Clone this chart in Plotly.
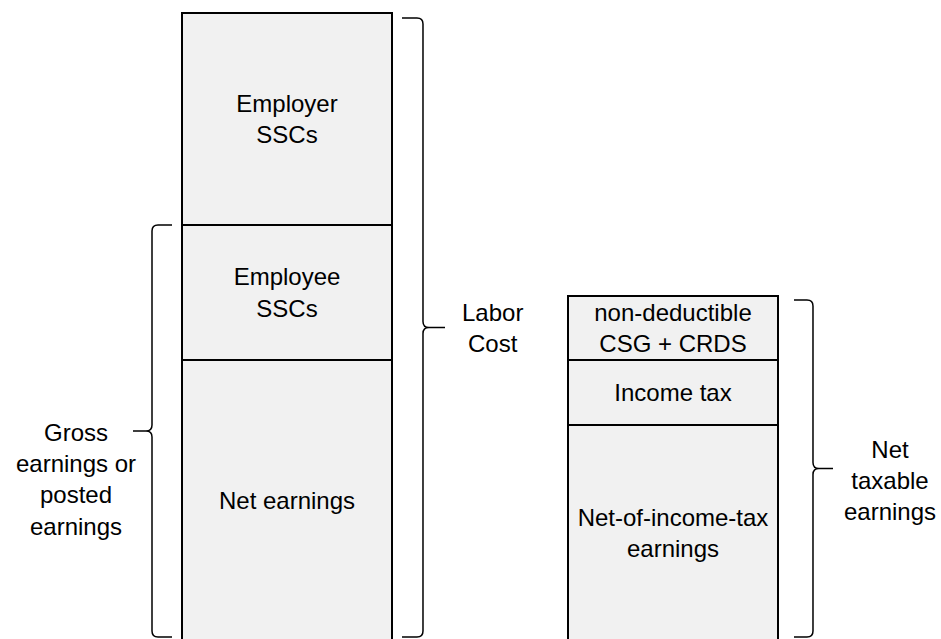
import plotly.graph_objects as go

# ---- data (arbitrary units, stacked bottom -> top) ----
bar_names = ["Labor cost", "Net taxable earnings"]
bottom_labels = ["Net earnings", "Net-of-income-tax<br>earnings"]
bottom_values = [281, 216]
middle_labels = ["Employee<br>SSCs", "Income tax"]
middle_values = [135, 65]
top_labels = ["Employer<br>SSCs", "non-deductible<br>CSG + CRDS"]
top_values = [212, 64]

brace_texts = ["Labor<br>Cost", "Gross<br>earnings or<br>posted<br>earnings", "Net<br>taxable<br>earnings"]

# ---- layout geometry ----
W, H = 941, 639
X_RANGE = [-0.7435, 1.6943]
Y_RANGE = [2, 641]
PX_X = W / (X_RANGE[1] - X_RANGE[0])   # pixels per x unit
BAR_W = 0.544
FILL = "#f1f1f1"
FONT = "Liberation Sans, Arial, sans-serif"

xs = [0, 1]
fig = go.Figure()
for labels, vals in [(bottom_labels, bottom_values), (middle_labels, middle_values), (top_labels, top_values)]:
    fig.add_trace(go.Bar(
        x=xs, y=vals, width=BAR_W, text=labels,
        textposition="inside", insidetextanchor="middle", textangle=0,
        textfont=dict(size=24, color="black", family=FONT),
        marker=dict(color=FILL, line=dict(color="black", width=2)),
        hoverinfo="skip", showlegend=False,
    ))


def px(dx):
    return dx / PX_X


def brace(x_line, x_hook, x_tip, y_top, y_bot, rx_px=6, ry=6):
    """curly brace path; hooks point toward x_hook, tip toward x_tip"""
    s = 1 if x_tip > x_line else -1
    rx = px(rx_px)
    ym = (y_top + y_bot) / 2
    p = (f"M {x_hook},{y_top} L {x_line - s*rx},{y_top} "
         f"Q {x_line},{y_top} {x_line},{y_top - ry} "
         f"L {x_line},{ym + ry} Q {x_line},{ym} {x_line + s*rx},{ym} "
         f"L {x_tip},{ym} M {x_line + s*rx},{ym} "
         f"Q {x_line},{ym} {x_line},{ym - ry} "
         f"L {x_line},{y_bot + ry} Q {x_line},{y_bot} {x_line - s*rx},{y_bot} "
         f"L {x_hook},{y_bot}")
    return p, ym


shapes = []
annots = []

left_total = bottom_values[0] + middle_values[0] + top_values[0]
gross = bottom_values[0] + middle_values[0]
right_total = bottom_values[1] + middle_values[1] + top_values[1]

# Labor cost brace (right of left bar)
edge = xs[0] + BAR_W / 2
p, ym = brace(edge + px(31), edge + px(10), edge + px(53), left_total - 5, 4)
shapes.append(dict(type="path", path=p, line=dict(color="black", width=1.5)))
annots.append(dict(x=edge + px(101), y=ym, text=brace_texts[0]))

# Gross earnings brace (left of left bar)
edge = xs[0] - BAR_W / 2
p, ym = brace(edge - px(30), edge - px(10), edge - px(49), gross, 4)
shapes.append(dict(type="path", path=p, line=dict(color="black", width=1.5)))
annots.append(dict(x=edge - px(106), y=ym - 48, text=brace_texts[1]))

# Net taxable earnings brace (right of right bar)
edge = xs[1] + BAR_W / 2
p, ym = brace(edge + px(35), edge + px(16), edge + px(55), right_total - 4, 4)
shapes.append(dict(type="path", path=p, line=dict(color="black", width=1.5)))
annots.append(dict(x=edge + px(112), y=ym - 12, text=brace_texts[2]))

for a in annots:
    a.update(xref="x", yref="y", showarrow=False, xanchor="center", yanchor="middle",
             align="center", font=dict(size=24, color="black", family=FONT))

fig.update_layout(
    width=W, height=H, barmode="stack",
    margin=dict(l=0, r=0, t=0, b=0),
    paper_bgcolor="white", plot_bgcolor="white",
    xaxis=dict(range=X_RANGE, visible=False, fixedrange=True),
    yaxis=dict(range=Y_RANGE, visible=False, fixedrange=True),
    shapes=shapes, annotations=annots,
    uniformtext=dict(minsize=24, mode="show"),
)
fig.write_html("out.html", config={"displayModeBar": False},
               post_script="document.body.style.margin='0';document.body.style.overflow='hidden';")
